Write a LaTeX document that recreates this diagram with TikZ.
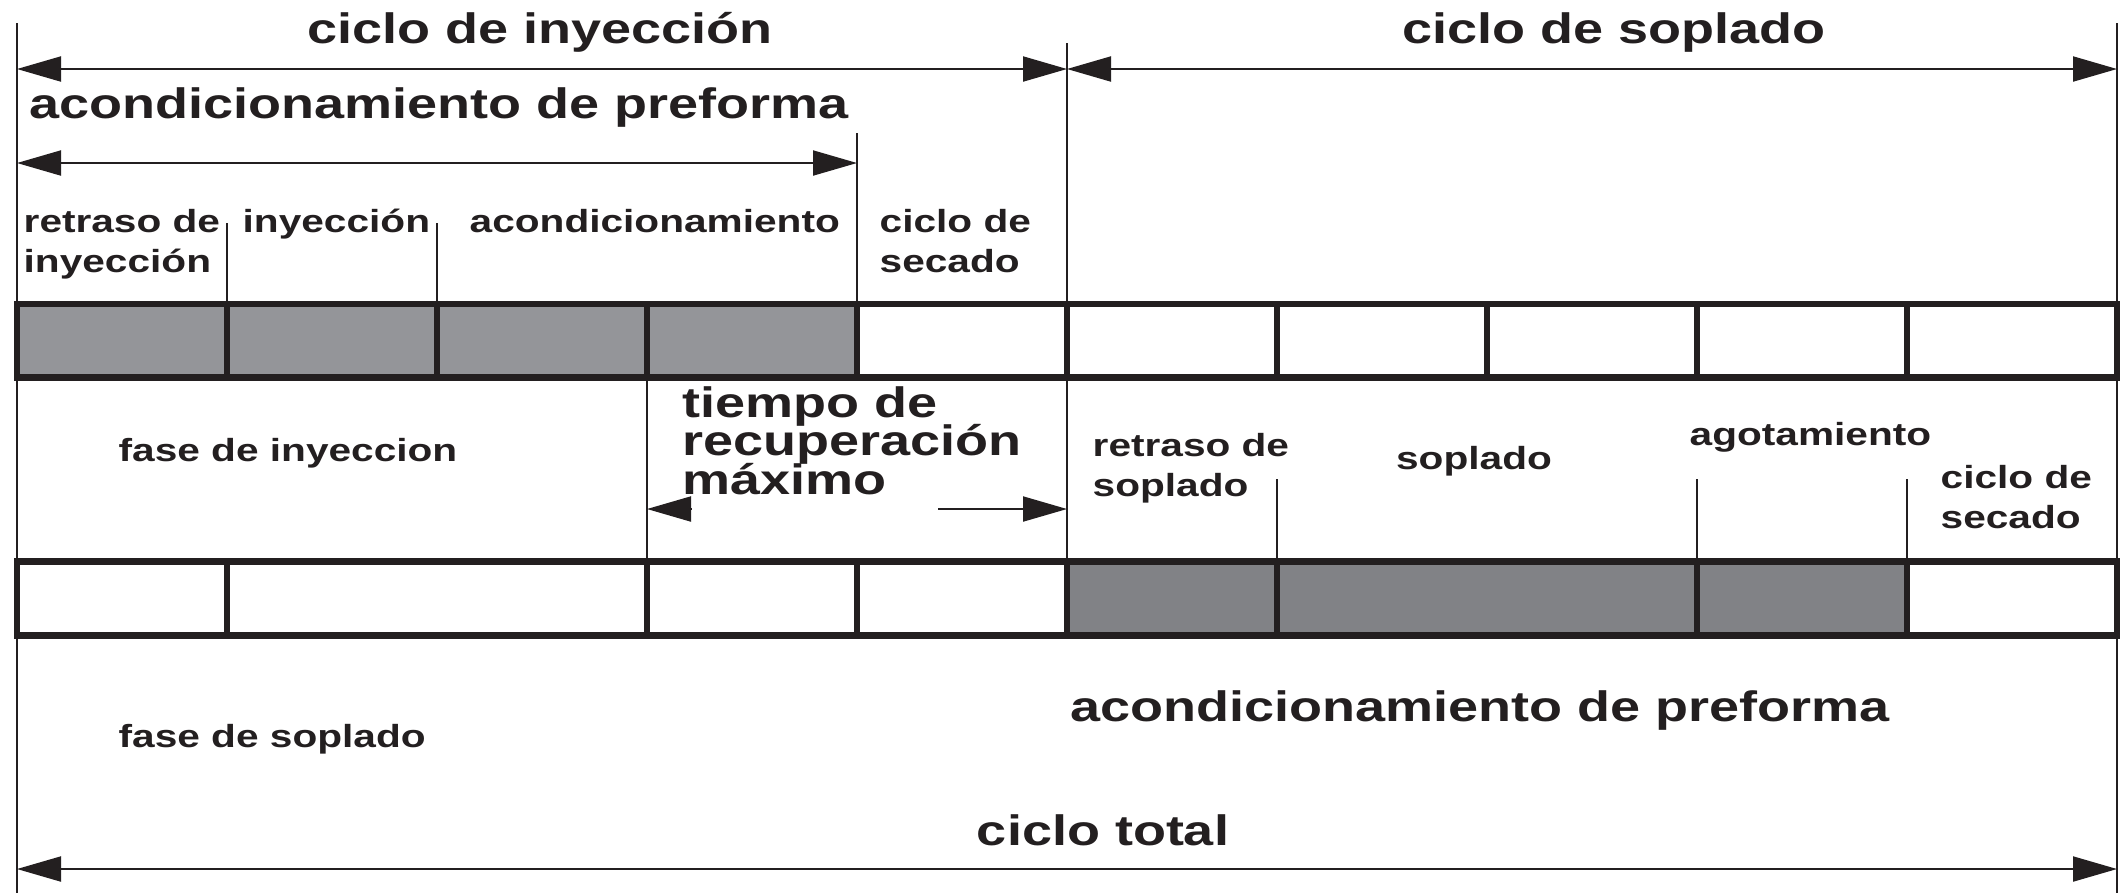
\documentclass[tikz,border=0pt]{standalone}
\usepackage{fontspec}
\newfontfamily\chartfont{Liberation Sans}[FakeStretch=1.27]
\usetikzlibrary{positioning, arrows.meta}
\usepackage{xcolor}
\definecolor{inkcolor}{RGB}{35, 31, 32}
\definecolor{injectcolor}{RGB}{148, 149, 153}
\definecolor{blowcolor}{RGB}{129, 130, 134}
\newcommand\tightlines{\lineskiplimit=-100pt\relax}

\begin{document}
\begin{tikzpicture}[x=0.1mm, y=-0.1mm,
    biglabel/.style={font=\chartfont\bfseries\fontsize{12.1pt}{10.95pt}\selectfont\tightlines,
      text=inkcolor, inner sep=0pt, align=left},
    smalllabel/.style={font=\chartfont\bfseries\fontsize{9.1pt}{11.2pt}\selectfont\tightlines,
      text=inkcolor, inner sep=0pt, align=left},
    dimline/.style={draw=inkcolor, line width=0.2mm,
      {Triangle[length=4.4mm, width=2.5mm]}-{Triangle[length=4.4mm, width=2.5mm]}},
    guide/.style={draw=inkcolor, line width=0.2mm},
    cellbox/.style={draw=inkcolor, line width=0.68mm}]
        \useasboundingbox (0,0) rectangle (2120,893);

        \coordinate (lefttop) at (17,23);
        \coordinate (leftbot) at (17,893);
        \coordinate (righttop) at (2117,23);
        \coordinate (rightbot) at (2117,893);
        \coordinate (midtop) at (1067,43);
        \coordinate (midbot) at (1067,561.5);
        \draw[guide] (lefttop) -- (leftbot);
        \draw[guide] (righttop) -- (rightbot);
        \draw[guide] (midtop) -- (midbot);
        \draw[guide] (857,133) -- (857,304);
        \draw[guide] (227,223) -- (227,304);
        \draw[guide] (437,223) -- (437,304);
        \draw[guide] (647,377.5) -- (647,561.5);
        \draw[guide] (1277,479) -- (1277,561.5);
        \draw[guide] (1697,479) -- (1697,561.5);
        \draw[guide] (1907,479) -- (1907,561.5);

        \coordinate (injl) at (17,69);
        \coordinate (injr) at (1067,69);
        \coordinate (blowr) at (2117,69);
        \coordinate (condl) at (17,163);
        \coordinate (condr) at (857,163);
        \coordinate (recl) at (647,509);
        \coordinate (recla) at (692,509);
        \coordinate (recr) at (1067,509);
        \coordinate (recra) at (938,509);
        \coordinate (totl) at (17,869);
        \coordinate (totr) at (2117,869);
        \draw[dimline] (injl) -- (injr);
        \draw[dimline] (injr) -- (blowr);
        \draw[dimline] (condl) -- (condr);
        \draw[dimline, {Triangle[length=4.4mm, width=2.5mm]}-] (recl) -- (recla);
        \draw[dimline, -{Triangle[length=4.4mm, width=2.5mm]}] (recra) -- (recr);
        \draw[dimline] (totl) -- (totr);

        \fill[injectcolor] (17,304) rectangle (857,377.5);
        \foreach \i in {0,...,9}
          \draw[cellbox] ({17+210*\i},304) rectangle ++(210,73.5);

        \fill[blowcolor] (1067,561.5) rectangle (1907,635.5);
        \foreach \a/\b in {17/227, 227/647, 647/857, 857/1067, 1067/1277, 1277/1697, 1697/1907, 1907/2117}
          \draw[cellbox] (\a,561.5) rectangle (\b,635.5);

        \node[biglabel, anchor=base] (cycinj) at (540,43) {ciclo de inyección};
        \node[biglabel, anchor=base] (cycblow) at (1614,43) {ciclo de soplado};
        \node[biglabel, anchor=base west] (condtop) at (29,118) {acondicionamiento de preforma};
        \node[smalllabel, anchor=base west] (delayinj) at (23,272) {retraso de\\inyección};
        \node[smalllabel, anchor=base west] (inj) at (242,232) {inyección};
        \node[smalllabel, anchor=base west] (cond) at (469,232) {acondicionamiento};
        \node[smalllabel, anchor=base west] (dryinj) at (879,272) {ciclo de\\secado};
        \node[smalllabel, anchor=base west] (phaseinj) at (118,461) {fase de inyeccion};
        \node[biglabel, anchor=base west] (recovery) at (682,494) {tiempo de\\recuperación\\máximo};
        \node[smalllabel, anchor=base west] (delayblow) at (1092,496) {retraso de\\soplado};
        \node[smalllabel, anchor=base] (blow) at (1474,469) {soplado};
        \node[smalllabel, anchor=base west] (exhaust) at (1689,445) {agotamiento};
        \node[smalllabel, anchor=base west] (dryblow) at (1940,528) {ciclo de\\secado};
        \node[smalllabel, anchor=base west] (phaseblow) at (118,747) {fase de soplado};
        \node[biglabel, anchor=base west] (condbot) at (1070,721) {acondicionamiento de preforma};
        \node[biglabel, anchor=base] (total) at (1103,845) {ciclo total};
      \end{tikzpicture}
\end{document}
